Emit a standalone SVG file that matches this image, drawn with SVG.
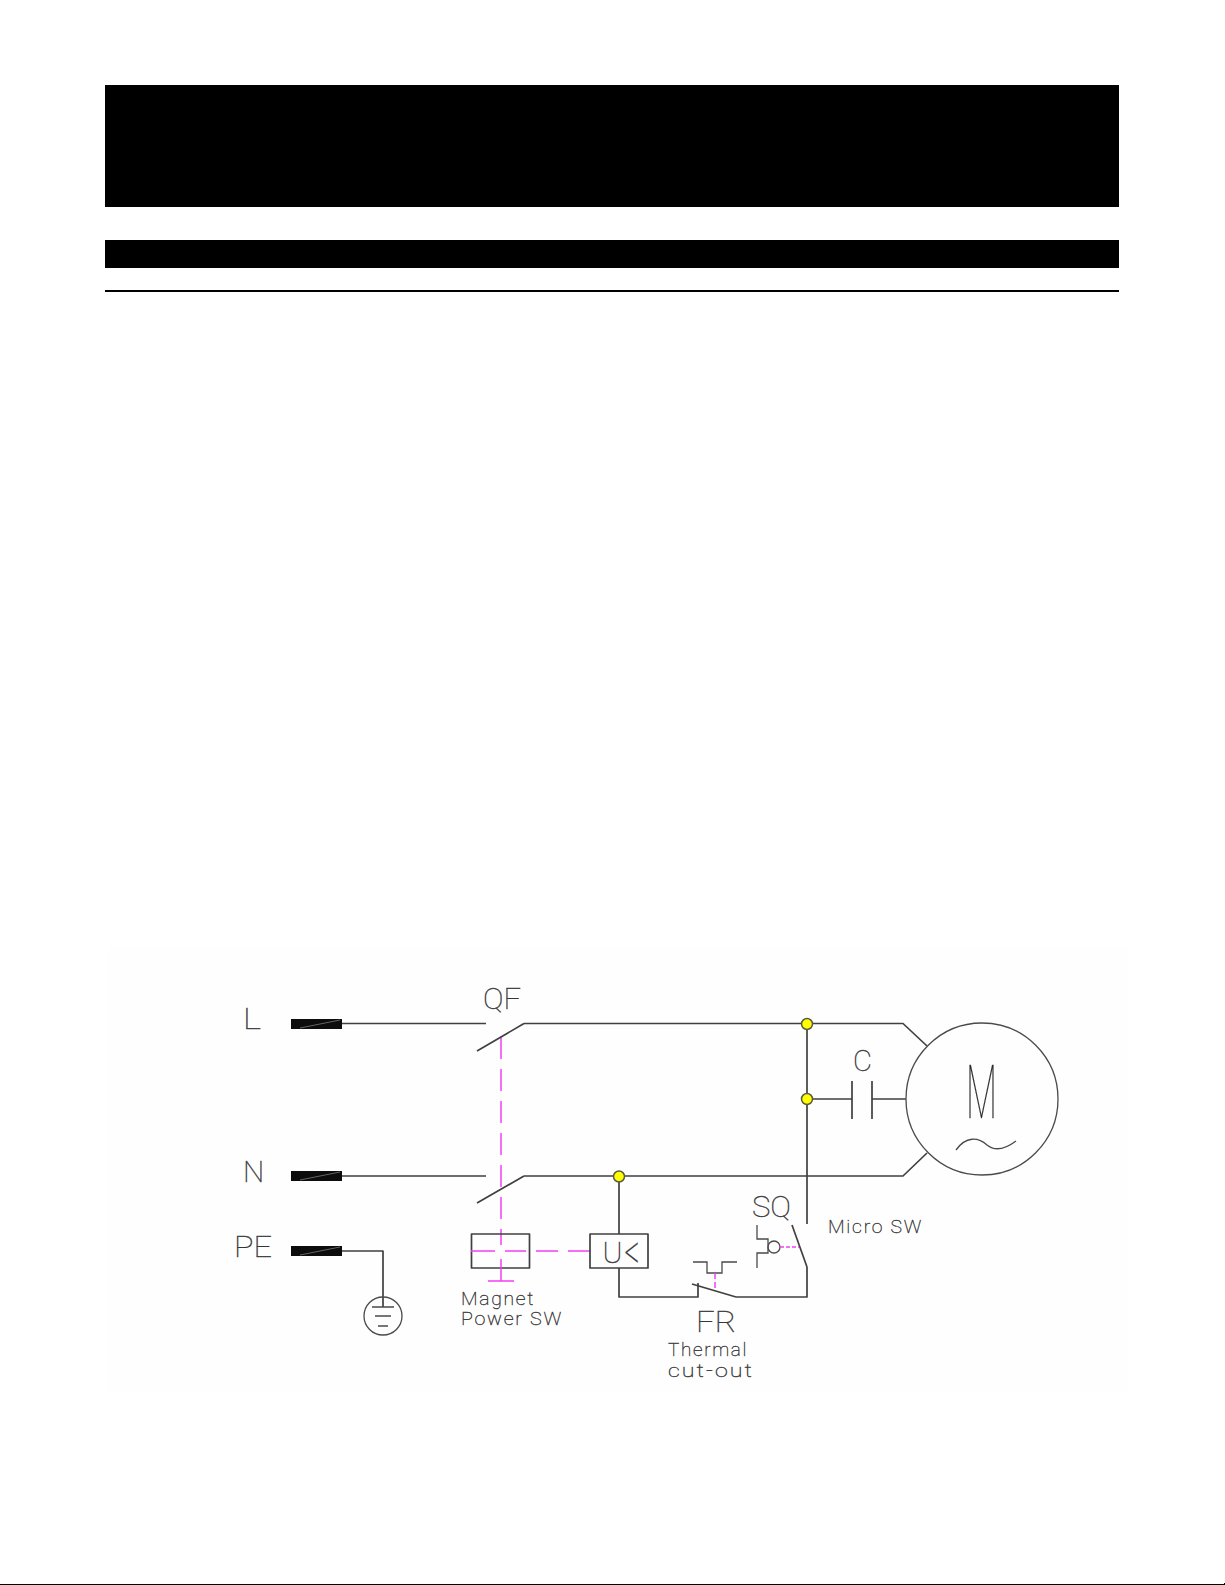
<svg xmlns="http://www.w3.org/2000/svg" width="1225" height="1585" viewBox="0 0 1225 1585">
<style>
.w{fill:none;stroke:#404040;stroke-width:1.7;stroke-linejoin:round}
.t{fill:none;stroke:#4a4a4a;stroke-width:1.3}
.m{fill:none;stroke:#f23ff2;stroke-width:1.5;stroke-dasharray:22 10}
.s{fill:none;stroke:#f23ff2;stroke-width:1.5}
.d{fill:#ffff00;stroke:#5a5a40;stroke-width:1.5}
.b{fill:#000}
.k{fill:#0c0c0c}
.g{fill:none;stroke:#888;stroke-width:.7}
text{font-family:"Roboto","Liberation Sans",sans-serif;font-weight:100;fill:#222;stroke:#444;stroke-width:.35}
.l{font-size:30px}
.n{font-size:18px;letter-spacing:1.6px}
</style>
<rect width="1225" height="1585" fill="#fff"/>
<rect x="108" y="947" width="1020" height="446" fill="#fefefe"/>
<g id="header">
<rect class="b" x="105" y="85" width="1014" height="122"/>
<rect class="b" x="105" y="240" width="1014" height="28"/>
<rect class="b" x="105" y="290" width="1014" height="2"/>
<rect class="b" x="0" y="1584" width="1224" height="1"/>
<rect class="b" x="1224" y="1583" width="1" height="2"/>
</g>
<g id="connectors">
<path class="w" d="M342 1023.5H486M524 1023.5H903L927 1046"/>
<path class="w" d="M342 1176H486M524 1176H903L927 1153"/>
<path class="w" d="M342 1251H383V1307"/>
<path class="w" d="M807 1024V1224"/>
<path class="w" d="M807 1099H852M872 1099H906"/>
<path class="w" d="M619 1176V1234M619 1268V1297H698V1283M736 1297H807V1267"/>
<path class="m" d="M501 1037V1245"/>
<path class="s" d="M536 1251H558M568 1251H590"/>
</g>
<g id="terminal-L"><rect class="k" x="291" y="1019" width="51" height="10"/><path class="g" d="M300 1028L340 1020"/><text class="l" x="243" y="1029" textLength="18" lengthAdjust="spacingAndGlyphs">L</text></g>
<g id="terminal-N"><rect class="k" x="291" y="1171" width="51" height="10"/><path class="g" d="M300 1180L340 1172"/><text class="l" x="243" y="1182">N</text></g>
<g id="terminal-PE"><rect class="k" x="291" y="1246" width="51" height="10"/><path class="g" d="M300 1255L340 1247"/><text class="l" x="234" y="1257" textLength="38" lengthAdjust="spacingAndGlyphs">PE</text></g>
<g id="earth">
<circle class="t" cx="383" cy="1316" r="19"/>
<path class="t" d="M372 1307H394M375 1316H391M378 1326H388"/>
</g>
<g id="QF">
<path class="w" d="M477 1051L524 1023.5M477 1203L524 1176"/>
<text class="l" x="483" y="1009" textLength="38" lengthAdjust="spacingAndGlyphs">QF</text>
</g>
<g id="magnet-power-sw">
<rect class="w" x="471.500" y="1234" width="58" height="34"/>
<path class="s" d="M471 1251H495M505 1251H526M501 1259V1281M488 1281H514"/>
<text class="n" x="461" y="1305" textLength="74" lengthAdjust="spacingAndGlyphs">Magnet</text>
<text class="n" x="461" y="1325" textLength="102" lengthAdjust="spacingAndGlyphs">Power SW</text>
</g>
<g id="UK">
<rect class="w" x="590" y="1234" width="58" height="34"/>
<text x="602.500" y="1262.500" font-size="30">U</text>
<text x="624.500" y="1269" font-size="50" textLength="15" lengthAdjust="spacingAndGlyphs">&lt;</text>
</g>
<g id="FR">
<path class="w" d="M692 1284L736 1297"/>
<path class="t" d="M693 1262H707V1273H722V1262H737"/>
<path class="s" stroke-dasharray="6 3" d="M715 1273V1291"/>
<text class="l" x="696" y="1332" textLength="40" lengthAdjust="spacingAndGlyphs">FR</text>
<text class="n" x="668" y="1356" textLength="80" lengthAdjust="spacingAndGlyphs">Thermal</text>
<text class="n" x="668" y="1377" textLength="86" lengthAdjust="spacingAndGlyphs">cut-out</text>
</g>
<g id="SQ">
<path class="w" d="M807 1267L792 1225"/>
<path class="t" d="M757 1225V1239H768V1253H757V1268"/>
<circle class="t" cx="774" cy="1247" r="6"/>
<path class="s" stroke-dasharray="4 2" d="M780 1247H799"/>
<text class="l" x="752" y="1217" textLength="39" lengthAdjust="spacingAndGlyphs">SQ</text>
<text class="n" x="828" y="1233" textLength="95" lengthAdjust="spacingAndGlyphs">Micro SW</text>
</g>
<g id="C">
<path class="w" d="M852 1081V1119M872 1081V1119"/>
<text class="l" x="853" y="1071" textLength="19" lengthAdjust="spacingAndGlyphs">C</text>
</g>
<g id="motor">
<circle class="t" cx="982" cy="1099" r="76"/>
<text x="966" y="1118" font-size="74" textLength="31" lengthAdjust="spacingAndGlyphs">M</text>
<path class="t" d="M956 1150C966 1136 978 1137 987 1145C997 1153 1008 1147 1016 1141"/>
</g>
<g id="junctions">
<circle class="d" cx="807" cy="1024" r="5.500"/>
<circle class="d" cx="807" cy="1099" r="5.500"/>
<circle class="d" cx="619" cy="1176.500" r="5.500"/>
</g>
</svg>
